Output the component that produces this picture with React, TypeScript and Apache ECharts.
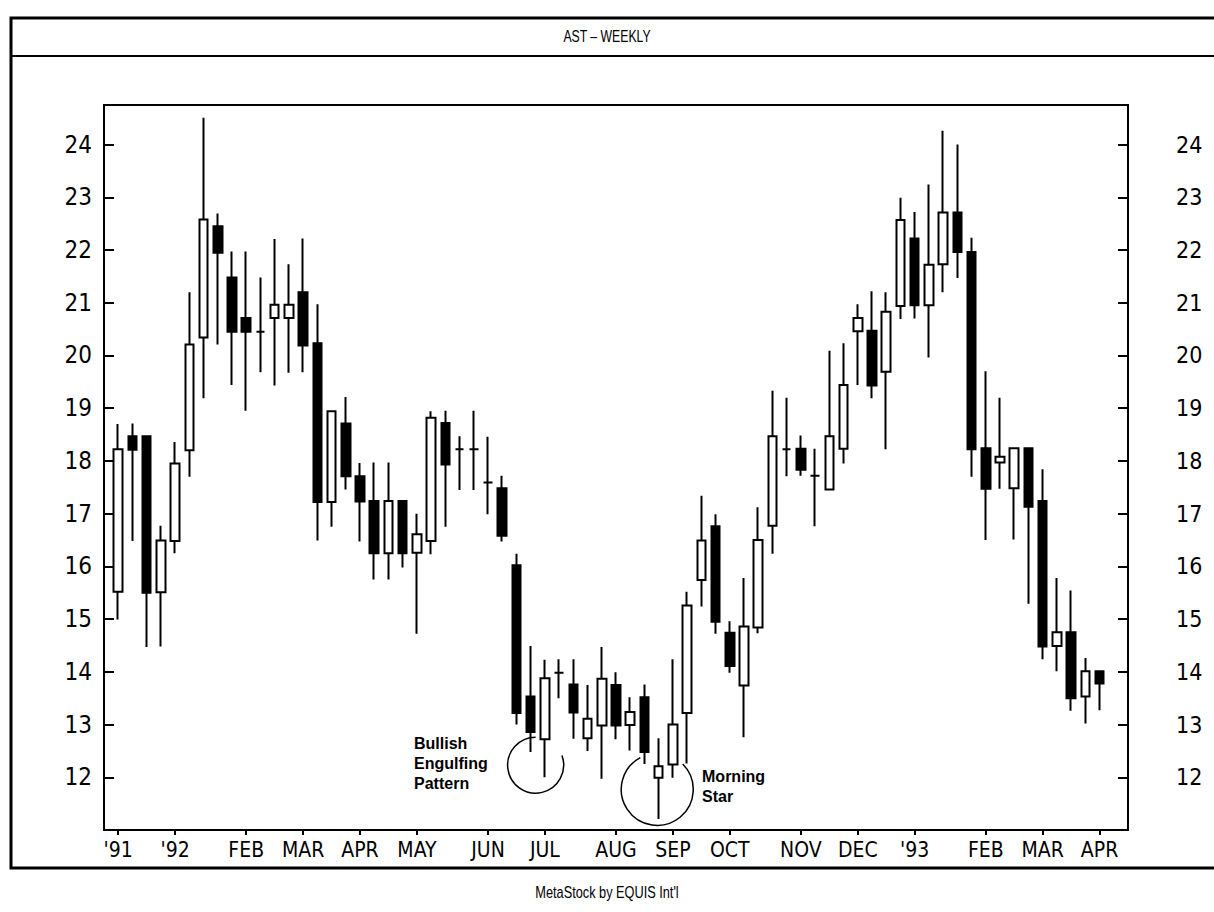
import React, { useEffect, useRef } from "react";
import * as echarts from "echarts";

// ---- data (weekly bars, Friday dates) ----
const weeks = [
  "1991-12-06", "1991-12-13", "1991-12-20", "1991-12-27",
  "1992-01-03", "1992-01-10", "1992-01-17", "1992-01-24", "1992-01-31",
  "1992-02-07", "1992-02-14", "1992-02-21", "1992-02-28",
  "1992-03-06", "1992-03-13", "1992-03-20", "1992-03-27",
  "1992-04-03", "1992-04-10", "1992-04-17", "1992-04-24",
  "1992-05-01", "1992-05-08", "1992-05-15", "1992-05-22", "1992-05-29",
  "1992-06-05", "1992-06-12", "1992-06-19", "1992-06-26",
  "1992-07-03", "1992-07-10", "1992-07-17", "1992-07-24", "1992-07-31",
  "1992-08-07", "1992-08-14", "1992-08-21", "1992-08-28",
  "1992-09-04", "1992-09-11", "1992-09-18", "1992-09-25",
  "1992-10-02", "1992-10-09", "1992-10-16", "1992-10-23", "1992-10-30",
  "1992-11-06", "1992-11-13", "1992-11-20", "1992-11-27",
  "1992-12-04", "1992-12-11", "1992-12-18", "1992-12-25",
  "1993-01-01", "1993-01-08", "1993-01-15", "1993-01-22", "1993-01-29",
  "1993-02-05", "1993-02-12", "1993-02-19", "1993-02-26",
  "1993-03-05", "1993-03-12", "1993-03-19", "1993-03-26",
  "1993-04-02",
];

const opens = [
  15.52, 18.47, 18.47, 15.51, 16.48, 18.2, 20.34, 22.45, 21.48, 20.71,
  20.45, 20.71, 20.71, 21.2, 20.23, 17.22, 18.71, 17.71, 17.24, 16.25,
  17.24, 16.26, 16.48, 18.72, 18.22, 18.22, 17.59, 17.48, 16.02, 13.53,
  12.72, 13.98, 13.76, 12.74, 12.98, 13.75, 12.99, 13.52, 11.99, 12.24,
  13.22, 15.74, 16.76, 14.74, 13.74, 14.84, 16.77, 18.22, 18.23, 17.72,
  17.46, 18.23, 20.46, 20.47, 19.69, 20.94, 22.22, 20.95, 21.73, 22.71,
  21.96, 18.24, 17.97, 17.48, 18.24, 17.24, 14.49, 14.75, 13.53, 14.01,
];
const closes = [
  18.22, 18.21, 15.5, 16.49, 17.95, 20.21, 22.58, 21.95, 20.45, 20.45,
  20.45, 20.96, 20.96, 20.19, 17.22, 18.94, 17.71, 17.23, 16.25, 17.24,
  16.25, 16.61, 18.82, 17.93, 18.22, 18.22, 17.59, 16.58, 13.22, 12.86,
  13.88, 13.98, 13.23, 13.11, 13.87, 12.98, 13.24, 12.48, 12.21, 13.0,
  15.26, 16.49, 14.95, 14.11, 14.86, 16.5, 18.47, 18.22, 17.83, 17.72,
  18.47, 19.44, 20.71, 19.43, 20.83, 22.57, 20.95, 21.72, 22.71, 21.96,
  18.22, 17.47, 18.08, 18.24, 17.13, 14.48, 14.75, 13.5, 14.01, 13.78,
];
const lows = [
  14.99, 16.48, 14.47, 14.48, 16.25, 17.7, 19.19, 20.21, 19.44, 18.95,
  19.68, 19.43, 19.67, 19.68, 16.49, 16.75, 17.46, 16.47, 15.75, 15.75,
  15.98, 14.72, 16.23, 16.75, 17.45, 17.45, 16.99, 16.47, 13.0, 12.48,
  12.0, 13.5, 12.73, 12.5, 11.97, 12.72, 12.51, 12.25, 11.21, 11.99,
  12.26, 15.24, 14.72, 13.98, 12.76, 14.73, 16.24, 17.71, 17.72, 16.76,
  17.46, 17.95, 19.44, 19.19, 18.22, 20.69, 20.7, 19.96, 21.2, 21.47,
  17.7, 16.5, 17.47, 16.51, 15.29, 14.24, 14.01, 13.26, 13.02, 13.27,
];
const highs = [
  18.7, 18.71, 18.47, 16.77, 18.36, 21.2, 24.51, 22.69, 21.97, 21.97,
  21.48, 22.21, 21.73, 22.22, 20.97, 18.94, 19.21, 17.96, 17.97, 17.97,
  17.24, 17.0, 18.94, 18.95, 18.47, 18.95, 18.46, 17.72, 16.24, 14.49,
  14.23, 14.24, 14.24, 13.75, 14.47, 13.99, 13.52, 13.76, 12.74, 14.24,
  15.52, 17.34, 16.99, 14.96, 15.78, 17.12, 19.33, 19.2, 18.48, 18.23,
  20.09, 20.23, 20.97, 21.22, 21.2, 22.99, 22.72, 23.24, 24.26, 24.0,
  22.23, 19.7, 19.2, 18.24, 18.24, 17.84, 15.78, 15.54, 14.26, 14.01,
];

// x-axis tick weeks and their labels
const tickWeeks = [
  "1991-12-06", "1992-01-03", "1992-02-07", "1992-03-06", "1992-04-03",
  "1992-05-01", "1992-06-05", "1992-07-03", "1992-08-07", "1992-09-04",
  "1992-10-02", "1992-11-06", "1992-12-04", "1993-01-01", "1993-02-05",
  "1993-03-05", "1993-04-02",
];
const tickTexts = [
  "'91", "'92", "FEB", "MAR", "APR", "MAY", "JUN", "JUL", "AUG", "SEP",
  "OCT", "NOV", "DEC", "'93", "FEB", "MAR", "APR",
];

// y-axis
const yMin = 11;
const yMax = 24.75;
const yStep = 1;
const yLabelMin = 12;
const yLabelMax = 24;

const titleText = "AST \u2013 WEEKLY";
const footerText = "MetaStock by EQUIS Int'l";

// annotations anchored in data space (slot = category position, value = price)
const noteTexts = ["Bullish\nEngulfing\nPattern", "Morning\nStar"];
const noteSlots = [21.8, 42.05];
const noteValues = [12.64, 12.02];
const ringSlots = [30.35, 38.9];
const ringValues = [12.23, 11.77];

const padBefore = [""];
const padAfter = [" ", "  "];

export default function App() {
  const ref = useRef<HTMLDivElement>(null);

  useEffect(() => {
    const el = ref.current;
    if (!el) return;
    const chart = echarts.init(el, null, { renderer: "svg" });

    const categories = [...padBefore, ...weeks, ...padAfter];
    const empty = ["-", "-", "-", "-"];
    const candles = weeks.map((_, i) => [opens[i], closes[i], lows[i], highs[i]]);
    const data = [...padBefore.map(() => empty), ...candles, ...padAfter.map(() => empty)];

    const isTick = (_i: number, v: string) => tickWeeks.indexOf(v) >= 0;
    const narrow = "'DejaVu Sans Condensed', 'Liberation Sans Narrow', sans-serif";
    const sans = "'Liberation Sans', Arial, Helvetica, sans-serif";
    const yFmt = (v: number) => (v >= yLabelMin && v <= yLabelMax ? String(v) : "");

    const yBase = {
      type: "value",
      min: yMin,
      max: yMax,
      interval: yStep,
      splitLine: { show: false },
      axisLine: { show: true, lineStyle: { color: "#000", width: 2 } },
      axisTick: { show: true, inside: true, length: 10, lineStyle: { color: "#000", width: 2 } },
    };

    chart.setOption({
      animation: false,
      backgroundColor: "#fff",
      grid: {
        left: 104,
        right: 86,
        top: 105,
        bottom: 82,
        show: true,
        borderColor: "#000",
        borderWidth: 2,
        backgroundColor: "#fff",
      },
      xAxis: {
        type: "category",
        data: categories,
        boundaryGap: false,
        axisLine: { show: true, lineStyle: { color: "#000", width: 2 } },
        axisTick: { show: true, interval: isTick, length: 5, lineStyle: { color: "#000", width: 2 } },
        axisLabel: {
          interval: isTick,
          formatter: (v: string) => {
            const k = tickWeeks.indexOf(v);
            return k >= 0 ? tickTexts[k] : "";
          },
          margin: 9,
          color: "#000",
          fontFamily: narrow,
          fontSize: 21,
        },
        splitLine: { show: false },
      },
      yAxis: [
        {
          ...yBase,
          position: "left",
          axisLabel: { formatter: yFmt, margin: 12, color: "#000", fontFamily: narrow, fontSize: 24 },
        },
        {
          ...yBase,
          position: "right",
          axisLabel: { formatter: yFmt, margin: 48, color: "#000", fontFamily: narrow, fontSize: 23, align: "left" },
        },
      ],
      series: [
        {
          type: "candlestick",
          data,
          barWidth: 9,
          silent: true,
          itemStyle: {
            color: "#fff",
            color0: "#000",
            borderColor: "#000",
            borderColor0: "#000",
            borderColorDoji: "#000",
            borderWidth: 2,
          },
        },
      ],
    });

    const slotX = (slot: number) => {
      const a = Math.floor(slot);
      const b = a + 1;
      const pa = chart.convertToPixel({ xAxisIndex: 0 }, a) as number;
      const pb = chart.convertToPixel({ xAxisIndex: 0 }, b) as number;
      return pa + (pb - pa) * (slot - a);
    };
    const valY = (v: number) => chart.convertToPixel({ yAxisIndex: 0 }, v) as number;

    const deg = Math.PI / 180;
    const ringRadius = [28, 36];
    const ringFrom = [-20, -45];
    const ringTo = [270, 242];

    const graphics: any[] = [
      {
        type: "polyline",
        shape: { points: [[1214, 18], [11, 18], [11, 868], [1214, 868]] },
        style: { stroke: "#000", lineWidth: 3, fill: null },
        silent: true,
      },
      {
        type: "line",
        shape: { x1: 11, y1: 56, x2: 1214, y2: 56 },
        style: { stroke: "#000", lineWidth: 2 },
        silent: true,
      },
      {
        type: "text",
        x: 607,
        y: 36,
        scaleX: 0.72,
        style: {
          text: titleText,
          fill: "#000",
          font: "17px " + sans,
          textAlign: "center",
          textVerticalAlign: "middle",
        },
        silent: true,
      },
      {
        type: "text",
        x: 607,
        y: 892,
        scaleX: 0.75,
        style: {
          text: footerText,
          fill: "#000",
          font: "17px " + sans,
          textAlign: "center",
          textVerticalAlign: "middle",
        },
        silent: true,
      },
    ];

    noteTexts.forEach((t, i) => {
      graphics.push({
        type: "text",
        x: slotX(noteSlots[i]),
        y: valY(noteValues[i]) - 10,
        z: 10,
        style: {
          text: t,
          fill: "#000",
          font: "bold 16px " + sans,
          lineHeight: 20,
          textAlign: "left",
          textVerticalAlign: "top",
        },
        silent: true,
      });
    });

    ringSlots.forEach((s, i) => {
      graphics.push({
        type: "arc",
        z: 10,
        shape: {
          cx: slotX(s),
          cy: valY(ringValues[i]),
          r: ringRadius[i],
          startAngle: ringFrom[i] * deg,
          endAngle: ringTo[i] * deg,
          clockwise: true,
        },
        style: { stroke: "#000", lineWidth: 1.5, fill: null },
        silent: true,
      });
    });

    chart.setOption({ graphic: graphics });

    return () => {
      chart.dispose();
    };
  }, []);

  return (
    <div
      ref={ref}
      style={{ position: "fixed", left: 0, top: 0, width: 1214, height: 912, background: "#fff" }}
    />
  );
}
